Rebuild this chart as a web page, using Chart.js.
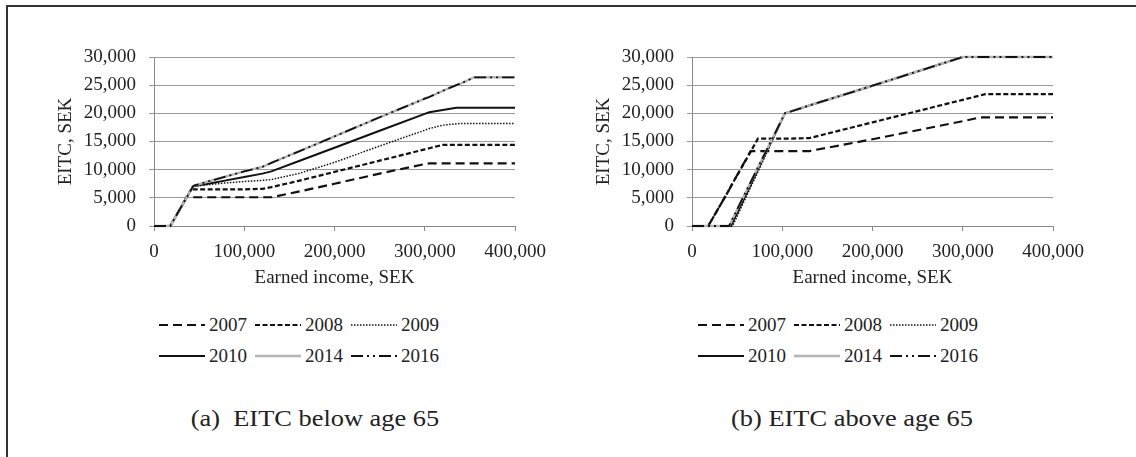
<!DOCTYPE html>
<html>
<head>
<meta charset="utf-8">
<script src="https://cdn.jsdelivr.net/npm/chart.js@4/dist/chart.umd.min.js"></script>
<style>
  body { margin: 0; width: 1136px; height: 457px; background: #fff; position: relative; overflow: hidden;
         font-family: "Liberation Serif", "Times New Roman", serif; color: #222; }
  #frame { position: absolute; left: 6px; top: 5px; right: 0; bottom: 0; border-top: 2px solid #333; border-left: 2px solid #333; }
  .panel { position: absolute; top: 30px; }
  .legend { position: absolute; top: 315px; display: grid; grid-template-columns: 96px 96px 96px; row-gap: 12px; font-size: 19px; line-height: 19px; }
  .item { display: flex; align-items: center; height: 19px; }
  .item svg { margin-right: 4px; }
  .caption { position: absolute; top: 406px; width: 400px; text-align: center; font-size: 24px; line-height: 24px;
             white-space: pre; transform: scaleX(1.1); transform-origin: center; }
</style>
</head>
<body>
<div id="frame"></div>
<canvas id="below" class="panel" width="520" height="260" style="left:40px"></canvas>
<canvas id="above" class="panel" width="520" height="260" style="left:578px"></canvas>
<div id="legendBelow" class="legend" style="left:159px"></div>
<div id="legendAbove" class="legend" style="left:698px"></div>
<div class="caption" style="left:115px">(a)  EITC below age 65</div>
<div class="caption" style="left:652px">(b) EITC above age 65</div>
<script>
// tick values
const ticksX = [0, 100000, 200000, 300000, 400000];
const ticksY = [0, 5000, 10000, 15000, 20000, 25000, 30000];
const years = ['2007', '2008', '2009', '2010', '2014', '2016'];

// (a) below age 65
const incomeBelow = [0, 18000, 36000, 41000, 43000, 45000, 60000, 80000, 100000, 120000, 130000,
                     160000, 200000, 250000, 300000, 305000, 320000, 335000, 340000, 355000, 400000];
const below2007 = [0, 0, 5100, 5100, 5100, 5100, 5100, 5100, 5100, 5100, 5100, 6100, 7500, 9300, 11000, 11100, 11100, 11100, 11100, 11100, 11100];
const below2008 = [0, 0, 5000, 6500, 6500, 6500, 6500, 6500, 6500, 6600, 6900, 8000, 9600, 11600, 13600, 13800, 14400, 14400, 14400, 14400, 14400];
const below2009 = [0, 0, 5000, 6400, 7000, 7100, 7350, 7650, 7900, 8100, 8250, 9300, 11300, 14200, 17000, 17300, 17900, 18150, 18200, 18200, 18200];
const below2010 = [0, 0, 5000, 6400, 7000, 7100, 7500, 8100, 8700, 9300, 9700, 11500, 13900, 16900, 19900, 20200, 20600, 21000, 21000, 21000, 21000];
const below2014 = [0, 0, 5000, 6400, 7000, 7200, 7900, 8800, 9700, 10500, 11200, 13200, 15900, 19300, 22600, 22900, 24000, 25000, 25300, 26400, 26400];
const below2016 = [0, 0, 5000, 6400, 7000, 7200, 7900, 8800, 9700, 10500, 11200, 13200, 15900, 19300, 22600, 22900, 24000, 25000, 25300, 26400, 26400];

// (b) above age 65
const incomeAbove = [0, 18000, 41000, 43000, 45000, 65000, 73000, 103000, 130000, 200000, 300000, 320000, 325000, 400000];
const above2007 = [0, 0, 6400, 7000, 7600, 13300, 13300, 13300, 13300, 15400, 18600, 19300, 19300, 19300];
const above2008 = [0, 0, 6400, 7000, 7600, 13200, 15500, 15500, 15600, 18400, 22400, 23200, 23400, 23400];
const above2009 = [0, 0, 0, 0, 0, 6900, 9600, 20000, 21400, 24900, 30000, 30000, 30000, 30000];
const above2010 = [0, 0, 0, 0, 600, 7300, 10000, 20000, 21400, 24900, 30000, 30000, 30000, 30000];
const above2014 = [0, 0, 0, 600, 1300, 7800, 10400, 20000, 21400, 24900, 30000, 30000, 30000, 30000];
const above2016 = [0, 0, 0, 600, 1300, 7800, 10400, 20000, 21400, 24900, 30000, 30000, 30000, 30000];

// line styles per year
const lineColors = ['#111', '#111', '#111', '#111', '#b5b5b5', '#111'];
const lineWidths = [2.2, 2.2, 1.5, 2, 2.4, 1.8];
const lineDashes = [[9, 5], [5, 2.5], [1.5, 1.5], [], [], [12, 4, 2, 4, 2, 4]];
const drawOrder = [4, 5, 3, 6, 2, 1]; // lower = drawn on top

const serif = '"Liberation Serif", "Times New Roman", serif';
const fmt = v => Number(v).toLocaleString('en-US');

function makeChart(id, incomes, series) {
  const datasets = series.map((vals, i) => ({
    label: years[i],
    data: incomes.map((x, j) => ({ x: x, y: vals[j] })),
    borderColor: lineColors[i],
    borderWidth: lineWidths[i],
    borderDash: lineDashes[i],
    pointRadius: 0,
    tension: 0,
    fill: false,
    clip: false,
    order: drawOrder[i]
  }));
  return new Chart(document.getElementById(id), {
    type: 'line',
    data: { datasets: datasets },
    options: {
      responsive: false,
      animation: false,
      layout: { padding: { top: 27, right: 45, bottom: 0, left: 0 }, autoPadding: false },
      plugins: { legend: { display: false }, tooltip: { enabled: false } },
      scales: {
        x: {
          type: 'linear', min: 0, max: 400000,
          afterBuildTicks: s => { s.ticks = ticksX.map(v => ({ value: v })); },
          afterFit: s => { s.height = 64; },
          grid: { drawOnChartArea: false, drawTicks: true, tickLength: 5, color: '#888' },
          border: { color: '#888', width: 1 },
          ticks: { padding: 10, maxRotation: 0, autoSkip: false, color: '#222', font: { family: serif, size: 19 }, callback: fmt },
          title: { display: true, text: 'Earned income, SEK', color: '#222', font: { family: serif, size: 19 }, padding: { top: 0, bottom: 1 } }
        },
        y: {
          min: 0, max: 30000,
          afterBuildTicks: s => { s.ticks = ticksY.map(v => ({ value: v })); },
          afterFit: s => { s.width = 114; },
          grid: { color: '#999', tickLength: 5, drawTicks: true },
          border: { color: '#888', width: 1 },
          ticks: { padding: 13, color: '#222', font: { family: serif, size: 19 }, callback: fmt },
          title: { display: true, text: 'EITC, SEK', color: '#222', font: { family: serif, size: 19 }, padding: { top: 15, bottom: 0 } }
        }
      }
    }
  });
}

// legend in two rows of three, drawn from the same line styles
function makeLegend(id) {
  const box = document.getElementById(id);
  years.forEach((y, i) => {
    const item = document.createElement('div');
    item.className = 'item';
    const dash = lineDashes[i].length ? lineDashes[i].join(' ') : 'none';
    item.innerHTML = '<svg width="46" height="6"><line x1="0" y1="3" x2="46" y2="3" stroke="' + lineColors[i] +
      '" stroke-width="' + lineWidths[i] + '" stroke-dasharray="' + dash + '"/></svg><span>' + y + '</span>';
    box.appendChild(item);
  });
}

makeChart('below', incomeBelow, [below2007, below2008, below2009, below2010, below2014, below2016]);
makeChart('above', incomeAbove, [above2007, above2008, above2009, above2010, above2014, above2016]);
makeLegend('legendBelow');
makeLegend('legendAbove');
</script>
</body>
</html>
